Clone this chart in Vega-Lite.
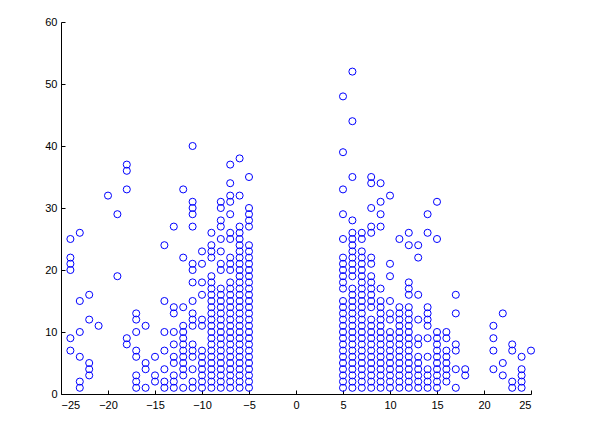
{
  "$schema": "https://vega.github.io/schema/vega-lite/v6.json",
  "autosize": "none",
  "width": 470,
  "height": 372,
  "padding": {"left": 61, "top": 22, "right": 68, "bottom": 38},
  "background": "white",
  "config": {
    "view": {"stroke": null},
    "axis": {"grid": false, "domainColor": "#000000", "tickColor": "#000000", "labelColor": "#000000", "labelFont": "Liberation Sans", "labelFontSize": 11, "tickSize": -4, "domainWidth": 1, "tickWidth": 1, "title": null}
  },
  "data": {"values": [
    {"x":-24,"y":25},{"x":-24,"y":22},{"x":-24,"y":21},{"x":-24,"y":20},{"x":-24,"y":9},{"x":-24,"y":7},
    {"x":-23,"y":26},{"x":-23,"y":15},{"x":-23,"y":10},{"x":-23,"y":6},{"x":-23,"y":2},{"x":-23,"y":1},
    {"x":-22,"y":16},{"x":-22,"y":12},{"x":-22,"y":5},{"x":-22,"y":4},{"x":-22,"y":3},
    {"x":-21,"y":11},
    {"x":-20,"y":32},
    {"x":-19,"y":29},{"x":-19,"y":19},
    {"x":-18,"y":37},{"x":-18,"y":36},{"x":-18,"y":33},{"x":-18,"y":9},{"x":-18,"y":8},
    {"x":-17,"y":13},{"x":-17,"y":12},{"x":-17,"y":10},{"x":-17,"y":7},{"x":-17,"y":6},{"x":-17,"y":3},{"x":-17,"y":2},{"x":-17,"y":1},
    {"x":-16,"y":11},{"x":-16,"y":5},{"x":-16,"y":4},{"x":-16,"y":1},
    {"x":-15,"y":6},{"x":-15,"y":3},{"x":-15,"y":2},
    {"x":-14,"y":24},{"x":-14,"y":15},{"x":-14,"y":10},{"x":-14,"y":7},{"x":-14,"y":4},{"x":-14,"y":2},{"x":-14,"y":1},
    {"x":-13,"y":27},{"x":-13,"y":14},{"x":-13,"y":13},{"x":-13,"y":10},{"x":-13,"y":8},{"x":-13,"y":6},{"x":-13,"y":5},{"x":-13,"y":3},{"x":-13,"y":2},{"x":-13,"y":1},
    {"x":-12,"y":33},{"x":-12,"y":22},{"x":-12,"y":14},{"x":-12,"y":11},{"x":-12,"y":10},{"x":-12,"y":9},{"x":-12,"y":8},{"x":-12,"y":7},{"x":-12,"y":6},{"x":-12,"y":5},{"x":-12,"y":4},{"x":-12,"y":3},{"x":-12,"y":1},
    {"x":-11,"y":40},{"x":-11,"y":31},{"x":-11,"y":30},{"x":-11,"y":29},{"x":-11,"y":27},{"x":-11,"y":21},{"x":-11,"y":20},{"x":-11,"y":18},{"x":-11,"y":15},{"x":-11,"y":13},{"x":-11,"y":12},{"x":-11,"y":11},{"x":-11,"y":8},{"x":-11,"y":7},{"x":-11,"y":6},{"x":-11,"y":4},{"x":-11,"y":2},{"x":-11,"y":1},
    {"x":-10,"y":23},{"x":-10,"y":21},{"x":-10,"y":18},{"x":-10,"y":16},{"x":-10,"y":12},{"x":-10,"y":11},{"x":-10,"y":7},{"x":-10,"y":6},{"x":-10,"y":5},{"x":-10,"y":4},{"x":-10,"y":3},{"x":-10,"y":2},{"x":-10,"y":1},
    {"x":-9,"y":26},{"x":-9,"y":24},{"x":-9,"y":23},{"x":-9,"y":22},{"x":-9,"y":19},{"x":-9,"y":18},{"x":-9,"y":17},{"x":-9,"y":16},{"x":-9,"y":15},{"x":-9,"y":14},{"x":-9,"y":13},{"x":-9,"y":12},{"x":-9,"y":11},{"x":-9,"y":10},{"x":-9,"y":9},{"x":-9,"y":8},{"x":-9,"y":7},{"x":-9,"y":6},{"x":-9,"y":5},{"x":-9,"y":4},{"x":-9,"y":3},{"x":-9,"y":2},{"x":-9,"y":1},
    {"x":-8,"y":31},{"x":-8,"y":30},{"x":-8,"y":28},{"x":-8,"y":27},{"x":-8,"y":25},{"x":-8,"y":23},{"x":-8,"y":21},{"x":-8,"y":20},{"x":-8,"y":17},{"x":-8,"y":16},{"x":-8,"y":15},{"x":-8,"y":14},{"x":-8,"y":13},{"x":-8,"y":12},{"x":-8,"y":11},{"x":-8,"y":10},{"x":-8,"y":9},{"x":-8,"y":8},{"x":-8,"y":7},{"x":-8,"y":6},{"x":-8,"y":5},{"x":-8,"y":4},{"x":-8,"y":3},{"x":-8,"y":2},{"x":-8,"y":1},
    {"x":-7,"y":37},{"x":-7,"y":34},{"x":-7,"y":32},{"x":-7,"y":31},{"x":-7,"y":29},{"x":-7,"y":26},{"x":-7,"y":25},{"x":-7,"y":22},{"x":-7,"y":21},{"x":-7,"y":20},{"x":-7,"y":18},{"x":-7,"y":17},{"x":-7,"y":16},{"x":-7,"y":15},{"x":-7,"y":14},{"x":-7,"y":13},{"x":-7,"y":12},{"x":-7,"y":11},{"x":-7,"y":10},{"x":-7,"y":9},{"x":-7,"y":8},{"x":-7,"y":7},{"x":-7,"y":6},{"x":-7,"y":5},{"x":-7,"y":4},{"x":-7,"y":3},{"x":-7,"y":2},{"x":-7,"y":1},
    {"x":-6,"y":38},{"x":-6,"y":32},{"x":-6,"y":27},{"x":-6,"y":26},{"x":-6,"y":25},{"x":-6,"y":24},{"x":-6,"y":23},{"x":-6,"y":22},{"x":-6,"y":21},{"x":-6,"y":20},{"x":-6,"y":19},{"x":-6,"y":18},{"x":-6,"y":17},{"x":-6,"y":16},{"x":-6,"y":15},{"x":-6,"y":14},{"x":-6,"y":13},{"x":-6,"y":12},{"x":-6,"y":11},{"x":-6,"y":10},{"x":-6,"y":9},{"x":-6,"y":8},{"x":-6,"y":7},{"x":-6,"y":6},{"x":-6,"y":5},{"x":-6,"y":4},{"x":-6,"y":3},{"x":-6,"y":2},{"x":-6,"y":1},
    {"x":-5,"y":35},{"x":-5,"y":30},{"x":-5,"y":29},{"x":-5,"y":28},{"x":-5,"y":27},{"x":-5,"y":24},{"x":-5,"y":23},{"x":-5,"y":22},{"x":-5,"y":21},{"x":-5,"y":20},{"x":-5,"y":19},{"x":-5,"y":18},{"x":-5,"y":17},{"x":-5,"y":16},{"x":-5,"y":15},{"x":-5,"y":14},{"x":-5,"y":13},{"x":-5,"y":12},{"x":-5,"y":11},{"x":-5,"y":10},{"x":-5,"y":9},{"x":-5,"y":8},{"x":-5,"y":7},{"x":-5,"y":6},{"x":-5,"y":5},{"x":-5,"y":4},{"x":-5,"y":3},{"x":-5,"y":2},{"x":-5,"y":1},
    {"x":5,"y":48},{"x":5,"y":39},{"x":5,"y":33},{"x":5,"y":29},{"x":5,"y":25},{"x":5,"y":22},{"x":5,"y":21},{"x":5,"y":20},{"x":5,"y":19},{"x":5,"y":18},{"x":5,"y":17},{"x":5,"y":15},{"x":5,"y":14},{"x":5,"y":13},{"x":5,"y":12},{"x":5,"y":11},{"x":5,"y":10},{"x":5,"y":9},{"x":5,"y":8},{"x":5,"y":7},{"x":5,"y":6},{"x":5,"y":5},{"x":5,"y":4},{"x":5,"y":3},{"x":5,"y":2},{"x":5,"y":1},
    {"x":6,"y":52},{"x":6,"y":44},{"x":6,"y":35},{"x":6,"y":28},{"x":6,"y":26},{"x":6,"y":25},{"x":6,"y":24},{"x":6,"y":23},{"x":6,"y":22},{"x":6,"y":21},{"x":6,"y":20},{"x":6,"y":19},{"x":6,"y":17},{"x":6,"y":16},{"x":6,"y":15},{"x":6,"y":14},{"x":6,"y":13},{"x":6,"y":12},{"x":6,"y":11},{"x":6,"y":10},{"x":6,"y":9},{"x":6,"y":8},{"x":6,"y":7},{"x":6,"y":6},{"x":6,"y":5},{"x":6,"y":4},{"x":6,"y":3},{"x":6,"y":2},{"x":6,"y":1},
    {"x":7,"y":26},{"x":7,"y":25},{"x":7,"y":23},{"x":7,"y":22},{"x":7,"y":21},{"x":7,"y":20},{"x":7,"y":19},{"x":7,"y":18},{"x":7,"y":17},{"x":7,"y":16},{"x":7,"y":15},{"x":7,"y":14},{"x":7,"y":13},{"x":7,"y":12},{"x":7,"y":11},{"x":7,"y":10},{"x":7,"y":9},{"x":7,"y":8},{"x":7,"y":7},{"x":7,"y":6},{"x":7,"y":5},{"x":7,"y":4},{"x":7,"y":3},{"x":7,"y":2},{"x":7,"y":1},
    {"x":8,"y":35},{"x":8,"y":34},{"x":8,"y":30},{"x":8,"y":27},{"x":8,"y":26},{"x":8,"y":22},{"x":8,"y":21},{"x":8,"y":19},{"x":8,"y":18},{"x":8,"y":17},{"x":8,"y":16},{"x":8,"y":15},{"x":8,"y":14},{"x":8,"y":12},{"x":8,"y":11},{"x":8,"y":10},{"x":8,"y":9},{"x":8,"y":8},{"x":8,"y":7},{"x":8,"y":6},{"x":8,"y":5},{"x":8,"y":4},{"x":8,"y":3},{"x":8,"y":2},{"x":8,"y":1},
    {"x":9,"y":34},{"x":9,"y":31},{"x":9,"y":29},{"x":9,"y":27},{"x":9,"y":17},{"x":9,"y":15},{"x":9,"y":14},{"x":9,"y":13},{"x":9,"y":12},{"x":9,"y":11},{"x":9,"y":10},{"x":9,"y":9},{"x":9,"y":8},{"x":9,"y":7},{"x":9,"y":6},{"x":9,"y":5},{"x":9,"y":4},{"x":9,"y":3},{"x":9,"y":2},{"x":9,"y":1},
    {"x":10,"y":32},{"x":10,"y":21},{"x":10,"y":19},{"x":10,"y":15},{"x":10,"y":13},{"x":10,"y":12},{"x":10,"y":10},{"x":10,"y":9},{"x":10,"y":8},{"x":10,"y":7},{"x":10,"y":6},{"x":10,"y":5},{"x":10,"y":4},{"x":10,"y":3},{"x":10,"y":2},{"x":10,"y":1},
    {"x":11,"y":25},{"x":11,"y":14},{"x":11,"y":13},{"x":11,"y":12},{"x":11,"y":11},{"x":11,"y":10},{"x":11,"y":9},{"x":11,"y":8},{"x":11,"y":7},{"x":11,"y":6},{"x":11,"y":5},{"x":11,"y":4},{"x":11,"y":3},{"x":11,"y":2},{"x":11,"y":1},
    {"x":12,"y":26},{"x":12,"y":24},{"x":12,"y":18},{"x":12,"y":17},{"x":12,"y":16},{"x":12,"y":14},{"x":12,"y":13},{"x":12,"y":12},{"x":12,"y":11},{"x":12,"y":10},{"x":12,"y":9},{"x":12,"y":8},{"x":12,"y":7},{"x":12,"y":6},{"x":12,"y":5},{"x":12,"y":4},{"x":12,"y":3},{"x":12,"y":2},{"x":12,"y":1},
    {"x":13,"y":24},{"x":13,"y":22},{"x":13,"y":16},{"x":13,"y":12},{"x":13,"y":9},{"x":13,"y":8},{"x":13,"y":6},{"x":13,"y":5},{"x":13,"y":4},{"x":13,"y":3},{"x":13,"y":2},{"x":13,"y":1},
    {"x":14,"y":29},{"x":14,"y":26},{"x":14,"y":14},{"x":14,"y":13},{"x":14,"y":12},{"x":14,"y":11},{"x":14,"y":9},{"x":14,"y":6},{"x":14,"y":4},{"x":14,"y":3},{"x":14,"y":2},{"x":14,"y":1},
    {"x":15,"y":31},{"x":15,"y":25},{"x":15,"y":10},{"x":15,"y":9},{"x":15,"y":8},{"x":15,"y":7},{"x":15,"y":6},{"x":15,"y":5},{"x":15,"y":4},{"x":15,"y":3},{"x":15,"y":2},{"x":15,"y":1},
    {"x":16,"y":10},{"x":16,"y":9},{"x":16,"y":7},{"x":16,"y":6},{"x":16,"y":5},{"x":16,"y":4},{"x":16,"y":3},{"x":16,"y":2},
    {"x":17,"y":16},{"x":17,"y":13},{"x":17,"y":8},{"x":17,"y":7},{"x":17,"y":4},{"x":17,"y":1},
    {"x":18,"y":4},{"x":18,"y":3},
    {"x":21,"y":11},{"x":21,"y":9},{"x":21,"y":7},{"x":21,"y":4},
    {"x":22,"y":13},{"x":22,"y":5},{"x":22,"y":3},
    {"x":23,"y":8},{"x":23,"y":7},{"x":23,"y":2},{"x":23,"y":1},
    {"x":24,"y":6},{"x":24,"y":4},{"x":24,"y":3},{"x":24,"y":2},{"x":24,"y":1},
    {"x":25,"y":7}
  ]},
  "mark": {"type": "point", "shape": "circle", "filled": false, "color": "#0000ff", "size": 50, "strokeWidth": 1, "opacity": 1, "clip": false},
  "encoding": {
    "x": {"field": "x", "type": "quantitative", "scale": {"domain": [-25, 25], "nice": false, "zero": false}, "axis": {"values": [-25, -20, -15, -10, -5, 0, 5, 10, 15, 20, 25], "labelPadding": 9}},
    "y": {"field": "y", "type": "quantitative", "scale": {"domain": [0, 60], "nice": false, "zero": false}, "axis": {"values": [0, 10, 20, 30, 40, 50, 60], "labelPadding": 8}}
  }
}
